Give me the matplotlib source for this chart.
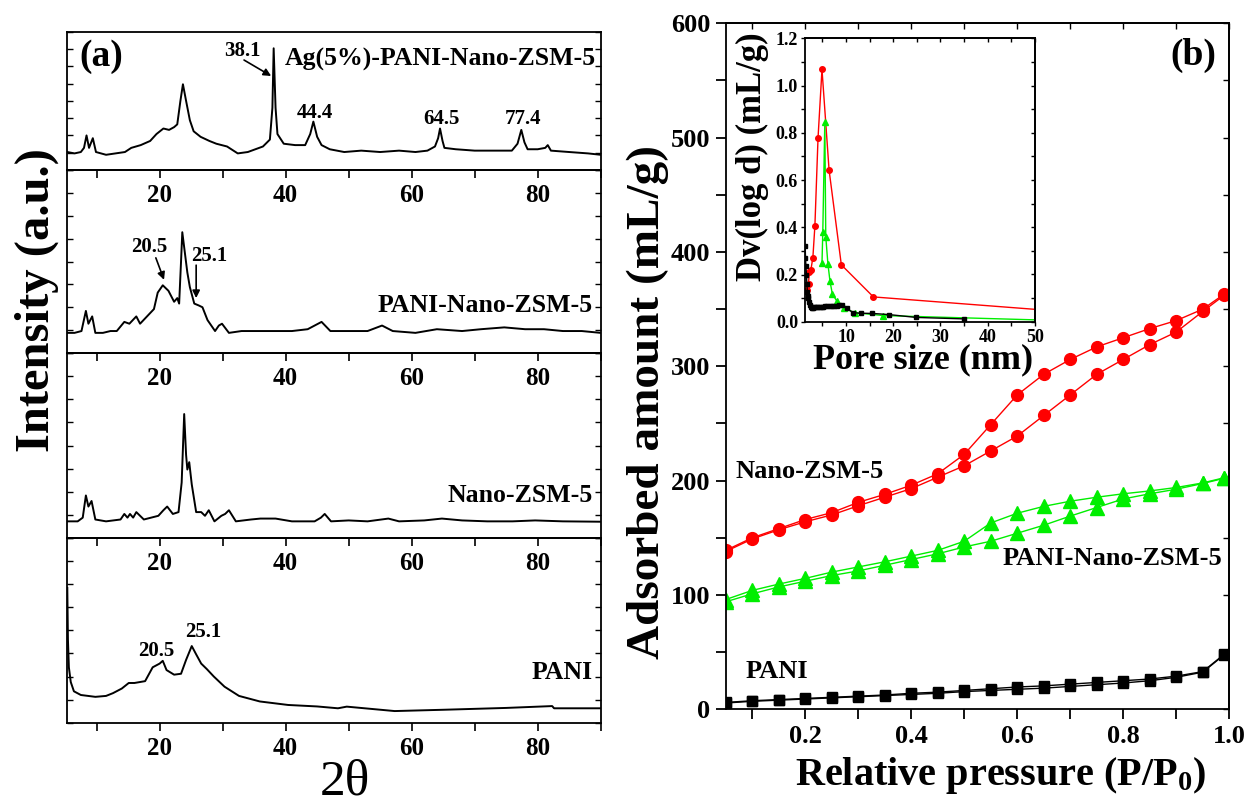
import matplotlib
matplotlib.use("Agg")
import matplotlib.pyplot as plt
from matplotlib.ticker import MultipleLocator

plt.rcParams['font.family'] = 'serif'
plt.rcParams['font.serif'] = ['Liberation Serif', 'DejaVu Serif']
plt.rcParams['font.weight'] = 'bold'
plt.rcParams['mathtext.fontset'] = 'custom'
plt.rcParams['mathtext.rm'] = 'Liberation Serif:bold'
plt.rcParams['mathtext.it'] = 'Liberation Serif:bold'
plt.rcParams['mathtext.bf'] = 'Liberation Serif:bold'
plt.rcParams['axes.linewidth'] = 1.3

# ---- XRD patterns (2theta, intensity in panel units 0-100) ----
ag_x = [5.35, 6.5, 7.5, 8.0, 8.4, 8.8, 9.4, 9.9, 11.5, 13.0, 14.5, 15.5, 17.0, 18.5, 19.5,
        20.6, 21.5, 22.3, 22.8, 23.3, 23.7, 24.2, 24.8, 25.4, 26.5, 27.9, 29.0, 30.7, 32.4,
        34.0, 36.4, 37.5, 37.9, 38.1, 38.4, 38.7, 39.7, 41.5, 43.1, 43.9, 44.4, 45.0, 45.7,
        47.0, 49.3, 52.0, 55.0, 58.0, 60.6, 62.5, 63.7, 64.2, 64.5, 64.9, 65.2, 67.0, 70.0,
        73.0, 75.9, 76.8, 77.4, 77.9, 78.4, 80.0, 81.2, 81.6, 82.1, 85.0, 88.0, 90.0]
ag_y = [13, 12, 13, 16, 25, 16, 23, 13, 11, 12, 13, 16, 18, 21, 26,
        30, 29, 31, 33, 50, 62, 50, 36, 28, 24, 21, 19, 17, 12,
        13, 17, 22, 45, 88, 45, 26, 19, 18, 18, 26, 35, 24, 18,
        15, 13, 14, 13, 14, 13, 14, 17, 23, 30, 21, 16, 15, 14,
        14, 14, 19, 29, 20, 15, 15, 16, 18, 14, 13, 12, 11]

pnz_x = [5.35, 6.5, 7.6, 8.3, 8.7, 9.3, 9.8, 11.0, 12.2, 13.2, 14.4, 15.2, 16.3, 16.9, 18.0,
         19.1, 19.7, 20.5, 21.4, 22.3, 22.8, 23.1, 23.4, 23.6, 24.0, 24.4, 24.8, 25.5, 26.2,
         26.8, 27.6, 28.8, 29.4, 29.9, 31.0, 33.0, 35.0, 38.1, 41.0, 43.5, 45.7, 47.1, 50.0,
         53.0, 55.3, 57.0, 60.6, 64.0, 68.0, 71.0, 74.7, 78.0, 81.0, 84.0, 87.0, 90.0]
pnz_y = [11, 11, 12, 23, 16, 20, 11, 11, 12, 12, 17, 16, 20, 16, 20,
         24, 33, 37, 34, 28, 30, 27, 50, 66, 55, 44, 36, 27, 26,
         25, 18, 12, 15, 16, 11, 12, 12, 12, 12, 13, 17, 12, 12,
         12, 15, 12, 11, 13, 12, 13, 14, 13, 13, 12, 12, 11]

nz_x = [5.35, 7.0, 7.8, 8.3, 8.7, 9.2, 9.8, 11.5, 13.8, 14.4, 14.9, 15.3, 15.8, 16.3, 17.5,
        19.8, 20.6, 21.2, 22.1, 23.0, 23.5, 23.9, 24.2, 24.4, 24.7, 25.1, 25.8, 26.6, 27.2,
        27.8, 28.7, 29.8, 30.4, 31.0, 32.1, 34.5, 36.0, 38.4, 41.0, 44.6, 45.6, 46.2, 47.2,
        50.0, 53.0, 56.3, 58.0, 62.0, 64.8, 68.0, 72.0, 76.0, 79.6, 84.0, 90.0]
nz_y = [9, 9, 11, 23, 17, 20, 10, 9, 10, 13, 11, 13, 11, 14, 10,
        12, 15, 17, 13, 14, 30, 67, 45, 37, 41, 29, 14, 14, 12,
        15, 9, 12, 13, 15, 9, 10, 10.5, 10.5, 9, 9, 11, 13, 9,
        9.5, 9, 10.5, 9, 9.5, 10.5, 9.5, 9, 9, 9.5, 9, 8.8]

pani_x = [5.35, 5.45, 5.6, 5.9, 6.4, 7.5, 9.8, 11.5, 12.6, 14.0, 15.1, 16.0, 17.7, 18.9,
          20.0, 20.5, 21.1, 22.3, 23.4, 24.2, 25.1, 25.8, 26.6, 27.5, 28.6, 30.3, 32.6,
          35.9, 40.4, 45.0, 48.3, 49.7, 57.3, 65.0, 75.0, 82.3, 82.6, 90.0]
pani_y = [73, 45, 30, 22, 17, 15, 14, 14.5, 16, 18.5, 21.5, 21.5, 22.5, 30,
          32, 33.5, 28.5, 26, 26.5, 34, 41.5, 37, 32, 29, 25, 19.5, 14.5,
          11.5, 9.6, 8.8, 7.8, 8.7, 6.3, 7.0, 8.0, 9.0, 7.8, 7.8]

# ---- N2 isotherms ----
p_rel = [0.05, 0.10, 0.15, 0.20, 0.25, 0.30, 0.35, 0.40, 0.45, 0.50,
         0.55, 0.60, 0.65, 0.70, 0.75, 0.80, 0.85, 0.90, 0.95, 0.99]
zsm_ads = [138, 149, 157, 164, 170, 178, 185.5, 193, 203, 213, 226, 239, 257, 275, 293, 306, 319, 330, 348, 362]
zsm_des = [139, 150, 158, 166, 172, 181, 188, 196, 206, 223, 249, 275, 293, 306, 317, 325, 333, 340, 350, 363]
pnz_ads = [94, 101, 107, 112, 117, 121, 126, 131, 136, 142, 147, 154, 161, 169, 176.5, 184, 188.5, 192.5, 197.5, 202]
pnz_des = [96, 104, 109.5, 114.5, 120, 124.5, 129, 134, 139, 147, 163, 171.5, 177.5, 182, 185.5, 188.5, 191, 194, 198, 202.5]
pani_ads = [5.5, 7, 8, 9, 10, 11, 12, 13, 14, 15.5, 16.5, 17.5, 18.5, 20, 21.5, 23, 25, 28, 32.5, 47.5]
pani_des = [6, 7.5, 8.5, 9.5, 10.5, 11.5, 12.5, 14, 15, 16.5, 18, 19.5, 20.5, 22, 23.5, 25, 26.5, 29, 33, 48]

# ---- pore size distributions ----
psd_zsm_x = [1.7, 2.05, 2.2, 2.55, 2.97, 3.4, 4.06, 4.9, 6.4, 9.0, 15.8, 62]
psd_zsm_y = [0.136, 0.161, 0.209, 0.220, 0.272, 0.407, 0.778, 1.069, 0.643, 0.241, 0.105, 0.034]
psd_pnz_x = [4.9, 5.07, 5.5, 5.7, 6.15, 6.6, 7.1, 8.0, 9.5, 11.8, 17.9, 55]
psd_pnz_y = [0.248, 0.379, 0.848, 0.361, 0.246, 0.171, 0.117, 0.089, 0.059, 0.038, 0.026, 0.005]
psd_pani_x = [1.35, 1.4, 1.5, 1.6, 1.7, 1.8, 1.9, 2.0, 2.15, 2.3, 2.5, 2.7, 2.9, 3.2, 3.5, 3.8,
              4.1, 4.4, 4.8, 5.2, 5.6, 6.0, 6.5, 7.0, 7.5, 8.0, 8.6, 9.2, 10.1, 11.5, 13.2,
              15.6, 19.2, 24.9, 34.9]
psd_pani_y = [0.32, 0.27, 0.235, 0.20, 0.16, 0.125, 0.11, 0.10, 0.085, 0.072, 0.062, 0.058,
              0.060, 0.061, 0.062, 0.062, 0.063, 0.063, 0.064, 0.064, 0.065, 0.065, 0.066,
              0.066, 0.067, 0.068, 0.070, 0.072, 0.058, 0.038, 0.036, 0.035, 0.030, 0.018, 0.012]

W, H = 1255, 806
fig = plt.figure(figsize=(W / 100, H / 100), dpi=100)


def box(l, t, r, b):
    return [l / W, 1 - b / H, (r - l) / W, (b - t) / H]


arrow = dict(arrowstyle='-|>', color='k', lw=1.2, mutation_scale=11, shrinkA=0, shrinkB=0)

# ---------- (a) stacked XRD ----------
panels = [(ag_x, ag_y, 31.7, 170), (pnz_x, pnz_y, 170, 353),
          (nz_x, nz_y, 353, 538), (pani_x, pani_y, 538, 722.7)]
axs = []
for xs, ys, top, bot in panels:
    ax = fig.add_axes(box(67.3, top, 600.7, bot))
    ax.patch.set_alpha(0)
    ax.plot(xs, ys, color='k', lw=1.4)
    ax.set_xlim(5.35, 90)
    ax.set_ylim(0, 100)
    ax.xaxis.set_major_locator(MultipleLocator(20))
    ax.xaxis.set_minor_locator(MultipleLocator(10))
    ax.yaxis.set_major_locator(MultipleLocator(12.5))
    ax.tick_params(axis='x', which='both', direction='out', length=6, width=1.2,
                   labelsize=18, pad=4)
    ax.tick_params(axis='y', direction='in', length=4, width=1, left=True, right=True,
                   labelleft=False)
    axs.append(ax)

a1, a2, a3, a4 = axs
a1.text(10.7, 82, '(a)', fontsize=27, ha='center', va='center')
a1.text(89.3, 80, 'Ag(5%)-PANI-Nano-ZSM-5', fontsize=18.5, ha='right', va='center')
a1.text(33.1, 86, '38.1', fontsize=15, ha='center', va='center')
a1.annotate('', xy=(37.7, 68), xytext=(33.4, 79.5), arrowprops=arrow)
for pos, lab in [(44.4, '44.4'), (64.5, '64.5'), (77.4, '77.4')]:
    a1.text(pos + 0.3, 41 if pos < 50 else 37, lab, fontsize=15, ha='center', va='center')

a2.text(88.8, 26, 'PANI-Nano-ZSM-5', fontsize=18.5, ha='right', va='center')
a2.text(18.3, 58, '20.5', fontsize=15, ha='center', va='center')
a2.annotate('', xy=(20.7, 40), xytext=(19.4, 52), arrowprops=arrow)
a2.text(27.9, 53, '25.1', fontsize=15, ha='center', va='center')
a2.annotate('', xy=(25.8, 30), xytext=(25.8, 48), arrowprops=arrow)
a3.text(88.8, 23, 'Nano-ZSM-5', fontsize=18.5, ha='right', va='center')
a4.text(88.8, 27, 'PANI', fontsize=18.5, ha='right', va='center')
a4.text(19.5, 39, '20.5', fontsize=15, ha='center', va='center')
a4.text(27.0, 49, '25.1', fontsize=15, ha='center', va='center')

fig.text(37 / W, 1 - 300 / H, 'Intensity (a.u.)', rotation=90, fontsize=35,
         ha='center', va='center')
fig.text(345 / W, 1 - 782 / H, '2θ', fontsize=37, fontweight='normal',
         ha='center', va='center')

# ---------- (b) isotherms ----------
axb = fig.add_axes(box(725.7, 23.3, 1229.3, 709.3))
axb.plot(p_rel, zsm_ads, color='red', marker='o', ms=8.5, lw=1)
axb.plot(p_rel, zsm_des, color='red', marker='o', ms=8.5, lw=1)
axb.plot(p_rel, pnz_ads, color='#00ee00', marker='^', ms=9.5, lw=1)
axb.plot(p_rel, pnz_des, color='#00ee00', marker='^', ms=9.5, lw=1)
axb.plot(p_rel, pani_ads, color='k', marker='s', ms=7, lw=1)
axb.plot(p_rel, pani_des, color='k', marker='s', ms=7, lw=1)
axb.set_xlim(0.05, 1.0)
axb.set_ylim(0, 600)
axb.xaxis.set_major_locator(MultipleLocator(0.2))
axb.xaxis.set_minor_locator(MultipleLocator(0.1))
axb.yaxis.set_major_locator(MultipleLocator(100))
axb.yaxis.set_minor_locator(MultipleLocator(50))
axb.tick_params(which='both', direction='out', length=7, width=1.3, labelsize=19, pad=4)
axb.set_xticks([0.2, 0.4, 0.6, 0.8, 1.0])
axb.set_xticklabels(['0.2', '0.4', '0.6', '0.8', '1.0'])
top = axb.secondary_xaxis('top')
top.xaxis.set_major_locator(MultipleLocator(0.1))
top.tick_params(direction='in', length=4, width=1, labeltop=False)
rgt = axb.secondary_yaxis('right')
rgt.yaxis.set_major_locator(MultipleLocator(50))
rgt.tick_params(direction='in', length=4, width=1, labelright=False)

axb.text(0.069, 208, 'Nano-ZSM-5', fontsize=19, ha='left', va='center')
axb.text(0.986, 132, 'PANI-Nano-ZSM-5', fontsize=19, ha='right', va='center')
axb.text(0.088, 33, 'PANI', fontsize=19, ha='left', va='center')
axb.text(0.932, 572, '(b)', fontsize=27, ha='center', va='center')

fig.text(648 / W, 1 - 402 / H, 'Adsorbed amount (mL/g)', rotation=90, fontsize=34,
         ha='center', va='center')
fig.text(1001 / W, 1 - 775 / H, 'Relative pressure (P/P$_0$)', fontsize=29,
         ha='center', va='center')

# ---------- inset: pore size distribution ----------
axi = fig.add_axes(box(805, 38.5, 1034.8, 321.7))
axi.plot(psd_zsm_x, psd_zsm_y, color='red', marker='o', ms=4, lw=1)
axi.plot(psd_pnz_x, psd_pnz_y, color='#00ee00', marker='^', ms=5, lw=1)
axi.plot(psd_pani_x, psd_pani_y, color='k', marker='s', ms=3.5, lw=1)
axi.set_xlim(1.3, 50)
axi.set_ylim(0, 1.2)
axi.xaxis.set_major_locator(MultipleLocator(10))
axi.xaxis.set_minor_locator(MultipleLocator(5))
axi.yaxis.set_major_locator(MultipleLocator(0.2))
axi.yaxis.set_minor_locator(MultipleLocator(0.1))
axi.tick_params(which='both', direction='out', length=3, width=1, labelsize=13, pad=2)
axi.set_yticks([0.0, 0.2, 0.4, 0.6, 0.8, 1.0, 1.2])
axi.set_yticklabels(['0.0', '0.2', '0.4', '0.6', '0.8', '1.0', '1.2'])
itop = axi.secondary_xaxis('top')
itop.xaxis.set_major_locator(MultipleLocator(5))
itop.tick_params(direction='in', length=3, width=1, labeltop=False)
irgt = axi.secondary_yaxis('right')
irgt.yaxis.set_major_locator(MultipleLocator(0.1))
irgt.tick_params(direction='in', length=3, width=1, labelright=False)
fig.text(752 / W, 1 - 157 / H, 'Dv(log d) (mL/g)', rotation=90, fontsize=25,
         ha='center', va='center')
fig.text(923 / W, 1 - 360 / H, 'Pore size (nm)', fontsize=26, ha='center', va='center')

fig.savefig('out.png', dpi=100)
